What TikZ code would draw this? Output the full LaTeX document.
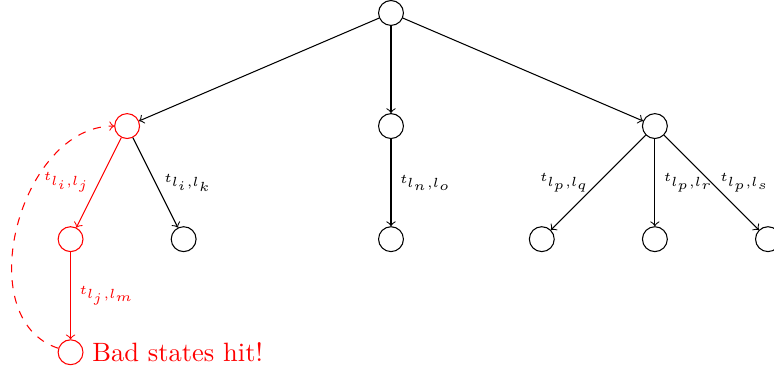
\documentclass[tikz,border=0pt]{standalone}
\usetikzlibrary{arrows}
\begin{document}
\begin{tikzpicture}[
  state/.style={draw, circle, minimum size=0.33cm, inner sep=0pt},
  bad/.style={state, red},
  edge/.style={->},
  lab/.style={font=\tiny, inner sep=3.2pt}
]
\useasboundingbox (-5.186,0.172) rectangle (5.08,-4.788);
\node[state] (r) at (0,0) {};
\node[bad] (li) at (-3.5,-1.5) {};
\node[state] (ln) at (0,-1.5) {};
\node[state] (lp) at (3.5,-1.5) {};
\node[bad] (lj) at (-4.25,-3) {};
\node[state] (lk) at (-2.75,-3) {};
\node[state] (lo) at (0,-3) {};
\node[state] (lq) at (2,-3) {};
\node[state] (lr) at (3.5,-3) {};
\node[state] (ls) at (5,-3) {};
\node[bad] (lm) at (-4.25,-4.5) {};
\node[red, anchor=west, inner sep=0pt] (txt) at ([xshift=0.11cm]lm.east) {Bad states hit!};

\draw[edge] (r) -- (li);
\draw[edge] (r) -- (ln);
\draw[edge] (r) -- (lp);
\draw[edge, red] (li) -- node[lab, left] {$t_{l_i,l_j}$} (lj);
\draw[edge] (li) -- node[lab, right] {$t_{l_i,l_k}$} (lk);
\draw[edge] (ln) -- node[lab, right] {$t_{l_n,l_o}$} (lo);
\draw[edge] (lp) -- node[lab, left] {$t_{l_p,l_q}$} (lq);
\draw[edge] (lp) -- node[lab, right] {$t_{l_p,l_r}$} (lr);
\draw[edge] (lp) -- node[lab, right] {$t_{l_p,l_s}$} (ls);
\draw[edge, red] (lj) -- node[lab, right] {$t_{l_j,l_m}$} (lm);
\draw[edge, red, dashed] (lm.162) .. controls +(162:1.25) and +(180:1.25) .. (li.west);
\end{tikzpicture}
\end{document}
